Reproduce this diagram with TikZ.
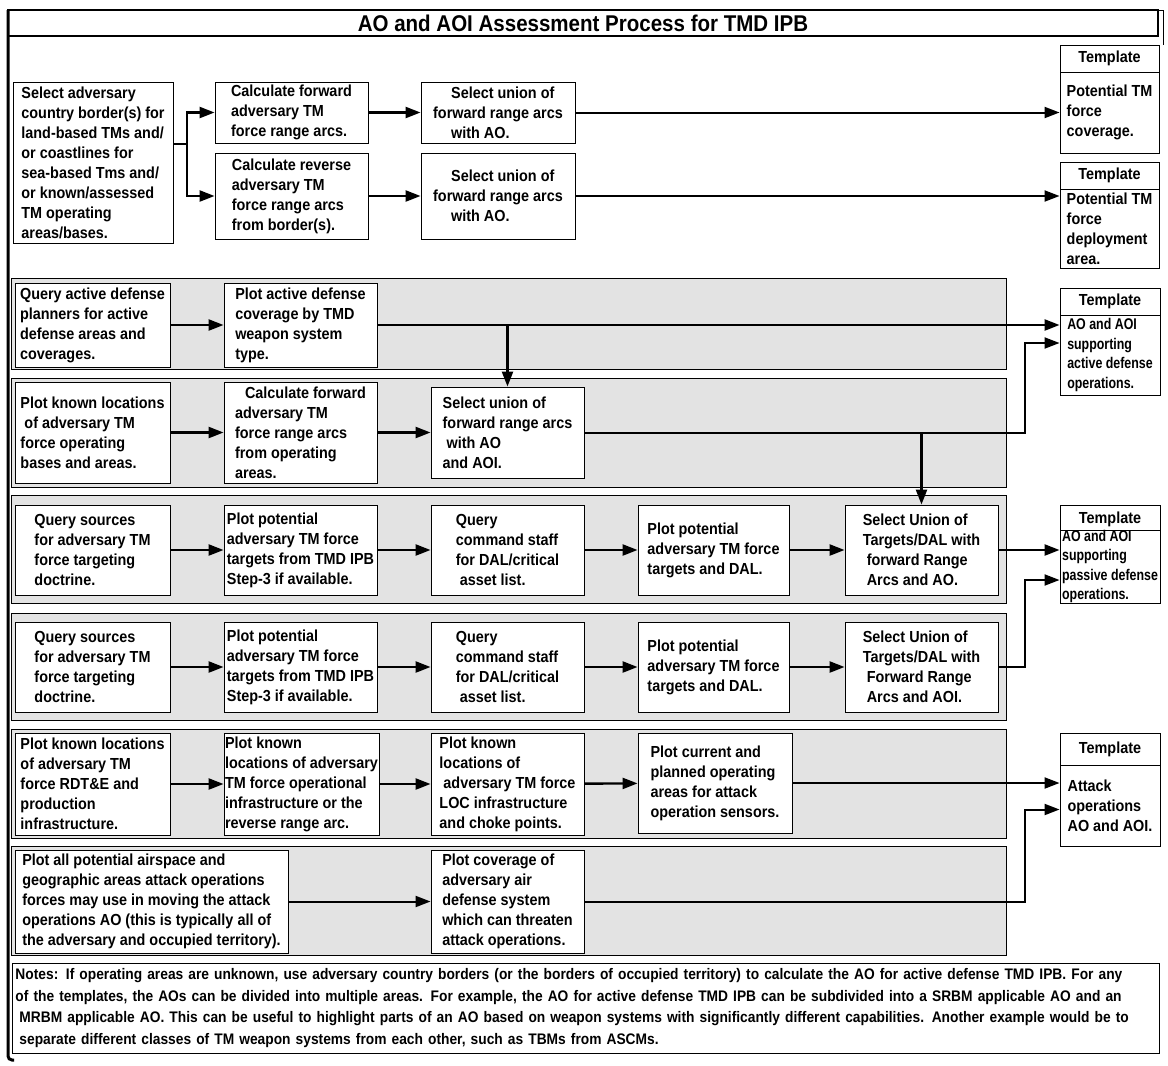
\documentclass[tikz,border=0pt]{standalone}
\usepackage{fontspec}
\setmainfont{Liberation Sans}[FakeStretch=0.9]
\newfontfamily\narrowf{Liberation Sans}[FakeStretch=0.8]
\usetikzlibrary{arrows.meta}
\newcommand\bxf{\fontsize{16}{20}\selectfont\bfseries}
\newcommand\tbf{\narrowf\fontsize{15.5}{19.5}\selectfont\bfseries}
\newcommand\ntf{\fontsize{15.3}{21.5}\selectfont\bfseries}
\definecolor{rowgray}{HTML}{E3E3E3}
\begin{document}
\begin{tikzpicture}[x=1pt,y=-1pt,
  box/.style={draw, line width=0.9pt, fill=white, align=left, inner sep=0pt, font=\bxf},
  hdr/.style={draw, line width=0.9pt, fill=white, inner sep=0pt, font=\bxf},
  conn/.style={line width=2.4pt, -{Triangle[length=15pt,width=11pt]}},
  lconn/.style={line width=2pt, -{Triangle[length=15pt,width=11pt]}},
  rowbox/.style={fill=rowgray, draw=black, line width=0.9pt}]
\useasboundingbox (0,0) rectangle (1168,1066);
% frame
\draw[line width=3pt, rounded corners=4pt] (8,10) -- (8,1060) -- (14,1060);
\draw[line width=1pt] (1158,10) -- (1163,10) -- (1163,45);
\node[draw, line width=2.5pt, minimum width=1150, minimum height=26, inner sep=0pt,
  font=\fontsize{22.8}{26}\selectfont\bfseries] (title) at (583,23) {AO and AOI Assessment Process for TMD IPB};
% rows
\path[rowbox] (11,278) rectangle (1006,369);
\path[rowbox] (11,378) rectangle (1006,487);
\path[rowbox] (11,495) rectangle (1006,603);
\path[rowbox] (11,613) rectangle (1006,720);
\path[rowbox] (11,729) rectangle (1006,838);
\path[rowbox] (11,846) rectangle (1006,955);
% templates
\node[hdr, minimum width=99, minimum height=27] (t1h) at (1109.5,58.5) {Template};
\node[box, minimum width=99, minimum height=81] (t1b) at (1109.5,112.5) {Potential TM\\force\\coverage.};
\node[hdr, minimum width=99, minimum height=27] (t2h) at (1109.5,175.5) {Template};
\node[box, minimum width=99, minimum height=79] (t2b) at (1109.5,228.5) {Potential TM\\force\\deployment\\area.};
\node[hdr, minimum width=100, minimum height=27] (t3h) at (1110,301.5) {Template};
\node[box, font=\tbf, minimum width=100, minimum height=80] (t3b) at (1110,355) {AO and AOI\\supporting\\active defense\\operations.};
\node[hdr, minimum width=100, minimum height=28] (t4h) at (1110,519) {Template};
\node[box, font=\tbf, minimum width=100, minimum height=67] (t4b) at (1110,566.5) {AO and AOI\\supporting\\passive defense\\operations.};
\node[hdr, minimum width=100, minimum height=32] (t5h) at (1110,749) {Template};
\node[box, minimum width=100, minimum height=81] (t5b) at (1110,805.5) {Attack\\operations\\AO and AOI.};
% row 1
\node[box, minimum width=160, minimum height=161] (a1) at (93,162.5) {Select adversary\\country border(s) for\\land-based TMs and/\\or coastlines for\\sea-based Tms and/\\or known/assessed\\TM operating\\areas/bases.};
\node[box, minimum width=153, minimum height=61] (b1) at (291.5,112.5) {Calculate forward\\adversary TM\\force range arcs.};
\node[box, minimum width=153, minimum height=86] (b2) at (291.5,196) {Calculate reverse\\adversary TM\\force range arcs\\from border(s).};
\node[box, minimum width=154, minimum height=61] (c1) at (498,112.5) {\hspace*{18pt}Select union of\\forward range arcs\\\hspace*{18pt}with AO.};
\node[box, minimum width=154, minimum height=86] (c2) at (498,196) {\hspace*{18pt}Select union of\\forward range arcs\\\hspace*{18pt}with AO.};
% row 2
\node[box, minimum width=155, minimum height=84] (d1) at (92.5,325) {Query active defense\\planners for active\\defense areas and\\coverages.};
\node[box, minimum width=153, minimum height=84] (d2) at (300.5,325) {Plot active defense\\coverage by TMD\\weapon system\\type.};
% row 3
\node[box, minimum width=155, minimum height=101] (e1) at (92.5,432.5) {Plot known locations\\\hspace*{4pt}of adversary TM\\force operating\\bases and areas.};
\node[box, minimum width=153, minimum height=101] (e2) at (300.5,432.5) {\hspace*{10pt}Calculate forward\\adversary TM\\force range arcs\\from operating\\areas.};
\node[box, minimum width=153, minimum height=91] (e3) at (507.5,432.5) {Select union of\\forward range arcs\\\hspace*{4pt}with AO\\and AOI.};
% row 4
\node[box, minimum width=155, minimum height=90] (f1) at (92.5,550) {Query sources\\for adversary TM\\force targeting\\doctrine.};
\node[box, minimum width=153, minimum height=90] (f2) at (300.5,550) {Plot potential\\adversary TM force\\targets from TMD IPB\\Step-3 if available.};
\node[box, minimum width=153, minimum height=90] (f3) at (507.5,550) {Query\\command staff\\for DAL/critical\\\hspace*{4pt}asset list.};
\node[box, minimum width=151, minimum height=90] (f4) at (713.5,550) {Plot potential\\adversary TM force\\targets and DAL.};
\node[box, minimum width=153, minimum height=90] (f5) at (921.5,550) {Select Union of\\Targets/DAL with\\\hspace*{4pt}forward Range\\\hspace*{4pt}Arcs and AO.};
% row 5
\node[box, minimum width=155, minimum height=90] (g1) at (92.5,667) {Query sources\\for adversary TM\\force targeting\\doctrine.};
\node[box, minimum width=153, minimum height=90] (g2) at (300.5,667) {Plot potential\\adversary TM force\\targets from TMD IPB\\Step-3 if available.};
\node[box, minimum width=153, minimum height=90] (g3) at (507.5,667) {Query\\command staff\\for DAL/critical\\\hspace*{4pt}asset list.};
\node[box, minimum width=151, minimum height=90] (g4) at (713.5,667) {Plot potential\\adversary TM force\\targets and DAL.};
\node[box, minimum width=153, minimum height=90] (g5) at (921.5,667) {Select Union of\\Targets/DAL with\\\hspace*{4pt}Forward Range\\\hspace*{4pt}Arcs and AOI.};
% row 6
\node[box, minimum width=155, minimum height=102] (h1) at (92.5,784) {Plot known locations\\of adversary TM\\force RDT\&E and\\production\\infrastructure.};
\node[box, minimum width=155, minimum height=102] (h2) at (301.5,784) {Plot known\\locations of adversary\\TM force operational\\infrastructure or the\\reverse range arc.};
\node[box, minimum width=153, minimum height=102] (h3) at (507.5,784) {Plot known\\locations of\\\hspace*{4pt}adversary TM force\\LOC infrastructure\\and choke points.};
\node[box, minimum width=154, minimum height=100] (h4) at (715,783) {Plot current and\\planned operating\\areas for attack\\operation sensors.};
% row 7
\node[box, minimum width=273, minimum height=103] (i1) at (151.5,901.5) {Plot all potential airspace and\\geographic areas attack operations\\forces may use in moving the attack\\operations AO (this is typically all of\\the adversary and occupied territory).};
\node[box, minimum width=153, minimum height=103] (i2) at (507.5,901.5) {Plot coverage of\\adversary air\\defense system\\which can threaten\\attack operations.};
% notes
\node[draw, line width=0.9pt, fill=white, minimum width=1147pt, minimum height=90pt, inner xsep=3.5pt, inner ysep=0pt, text width=1140pt, align=left, font=\ntf] (notes) at (585.5,1008) {Notes: If operating areas are unknown, use adversary country borders (or the borders of occupied territory) to calculate the AO for active defense TMD IPB. For any\\of the templates, the AOs can be divided into multiple areas. For example, the AO for active defense TMD IPB can be subdivided into a SRBM applicable AO and an\\\hspace*{4pt}MRBM applicable AO. This can be useful to highlight parts of an AO based on weapon systems with significantly different capabilities. Another example would be to\\\hspace*{4pt}separate different classes of TM weapon systems from each other, such as TBMs from ASCMs.};
% connectors
\coordinate (br) at (187,144);
\coordinate (jx) at (1025,0);
\draw[conn] (a1.east |- br) -- (br) |- (b1.west);
\draw[conn] (br) |- (b2.west);
\draw[conn] (b1) -- (c1);
\draw[conn] (b2) -- (c2);
\draw[lconn] (c1.east) -- (c1.east -| t1b.west);
\draw[lconn] (c2.east) -- (c2.east -| t2b.west);
\draw[conn] (d1) -- (d2);
\draw[conn] (d2.east) -- (d2.east -| t3b.west);
\draw[conn] (e3.north |- d2.east) -- (e3.north);
\draw[conn] (e1) -- (e2);
\draw[conn] (e2) -- (e3);
\draw[lconn] (e3.east) -- (e3.east -| jx) |- ([yshift=12pt]t3b.west);
\draw[conn] (f5.north |- e3.east) -- (f5.north);
\draw[conn] (f1) -- (f2);
\draw[conn] (f2) -- (f3);
\draw[conn] (f3) -- (f4);
\draw[conn] (f4) -- (f5);
\draw[conn] (f5.east) -- (f5.east -| t4b.west);
\draw[conn] (g1) -- (g2);
\draw[conn] (g2) -- (g3);
\draw[conn] (g3) -- (g4);
\draw[conn] (g4) -- (g5);
\draw[lconn] (g5.east) -- (g5.east -| jx) |- ([yshift=-13.5pt]t4b.west);
\draw[conn] (h1) -- (h2);
\draw[conn] (h2) -- (h3);
\draw[conn] (h3) -- (h4);
\draw[lconn] (h4.east) -- (h4.east -| t5b.west);
\draw[lconn] (i1) -- (i2);
\draw[lconn] (i2.east) -- (i2.east -| jx) |- ([yshift=-4pt]t5b.west);
\end{tikzpicture}
\end{document}
